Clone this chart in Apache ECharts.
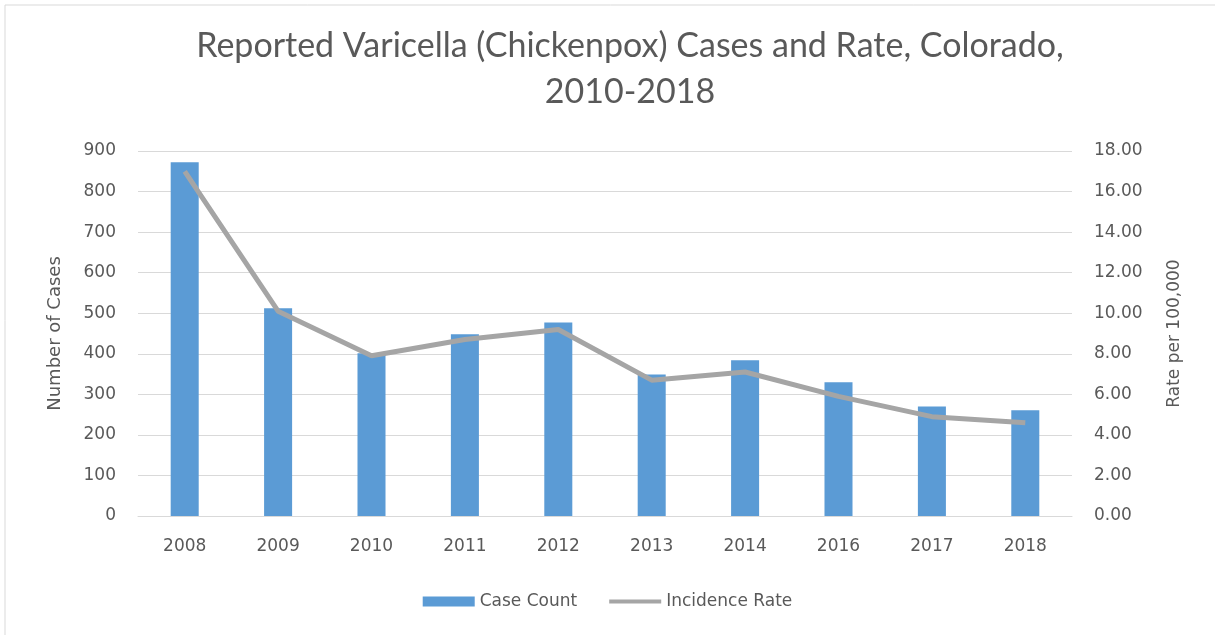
<!DOCTYPE html>
<html>
<head>
<meta charset="utf-8">
<script src="https://cdn.jsdelivr.net/npm/echarts@6/dist/echarts.min.js"></script>
<style>
  html, body { margin: 0; padding: 0; background: #fff; }
  #chart { width: 1215px; height: 635px; }
</style>
</head>
<body>
<div id="chart"></div>
<script>
// data
const years = ['2008', '2009', '2010', '2011', '2012', '2013', '2014', '2016', '2017', '2018']
const caseCount = [872, 512, 401, 448, 477, 349, 384, 330, 270, 261]
const incidenceRate = [17.0, 10.1, 7.9, 8.7, 9.2, 6.7, 7.1, 5.9, 4.9, 4.6]

const textColor = '#595959'
const font = "'DejaVu Sans', sans-serif"

const chart = echarts.init(document.getElementById('chart'))
chart.setOption({
  animation: false,
  textStyle: { fontFamily: font, color: textColor },
  title: {
    text: 'Reported Varicella (Chickenpox) Cases and Rate, Colorado,\n2010-2018',
    left: 625,
    textAlign: 'center',
    top: 18,
    textStyle: {
      fontFamily: 'Lato, sans-serif',
      fontWeight: 'normal',
      fontSize: 34,
      lineHeight: 46,
      color: textColor,
    },
  },
  graphic: [
    {
      type: 'rect',
      shape: { x: 5, y: 5, width: 1215, height: 640 },
      style: { fill: 'none', stroke: '#d9d9d9', lineWidth: 1 },
      silent: true,
    },
  ],
  legend: {
    bottom: 20,
    left: 'center',
    itemWidth: 52,
    itemHeight: 10,
    itemGap: 32,
    textStyle: { fontSize: 17, color: textColor, fontFamily: font },
    data: [
      { name: 'Case Count', icon: 'rect' },
      // thin bar in the middle; the two zero-area bits keep the full box height
      { name: 'Incidence Rate', icon: 'path://M0,0 L0.01,0 Z M0,3 L52,3 L52,7 L0,7 Z M0,10 L0.01,10 Z' },
    ],
  },
  grid: {
    left: 138,
    right: 143,
    top: 151,
    bottom: 119,
  },
  xAxis: {
    type: 'category',
    data: years,
    axisLine: { lineStyle: { color: '#d9d9d9', width: 1 } },
    axisTick: { show: false },
    axisLabel: { fontSize: 17, color: textColor, margin: 22 },
  },
  yAxis: [
    {
      type: 'value',
      min: 0,
      max: 900,
      interval: 100,
      name: 'Number of Cases',
      nameLocation: 'middle',
      nameGap: 74,
      nameTextStyle: { fontSize: 18, color: textColor },
      axisLine: { show: false },
      axisTick: { show: false },
      axisLabel: { fontSize: 17, color: textColor, margin: 22 },
      splitLine: { lineStyle: { color: '#d9d9d9', width: 1 } },
    },
    {
      type: 'value',
      min: 0,
      max: 18,
      interval: 2,
      name: 'Rate per 100,000',
      nameLocation: 'middle',
      nameGap: 94,
      nameRotate: 90,
      nameTextStyle: { fontSize: 17, color: textColor },
      axisLine: { show: false },
      axisTick: { show: false },
      axisLabel: {
        fontSize: 17,
        color: textColor,
        margin: 22,
        formatter: function (v) { return v.toFixed(2) },
      },
      splitLine: { show: false },
    },
  ],
  series: [
    {
      name: 'Case Count',
      type: 'bar',
      yAxisIndex: 0,
      barWidth: '30%',
      itemStyle: { color: '#5B9BD5' },
      data: caseCount,
    },
    {
      name: 'Incidence Rate',
      type: 'line',
      yAxisIndex: 1,
      symbol: 'none',
      lineStyle: { color: '#A5A5A5', width: 5 },
      itemStyle: { color: '#A5A5A5' },
      data: incidenceRate,
    },
  ],
})
</script>
</body>
</html>
